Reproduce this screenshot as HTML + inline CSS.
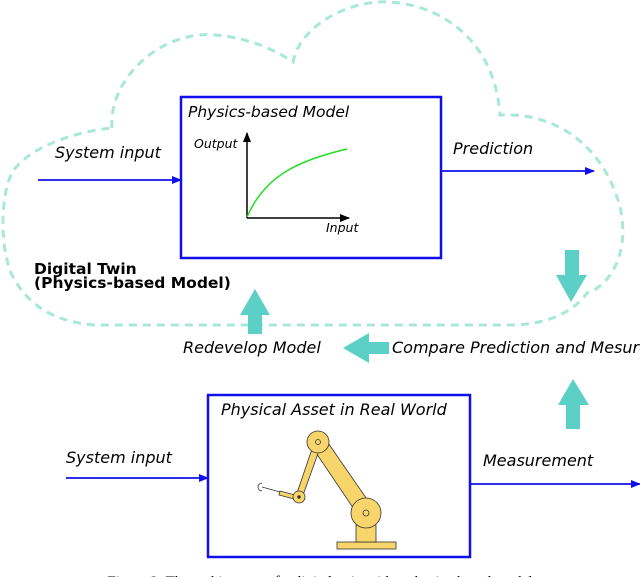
<!DOCTYPE html>
<html><head><meta charset="utf-8"><style>
html,body{margin:0;padding:0;background:#fff;}
svg{display:block;}
text{font-family:"DejaVu Sans","Liberation Sans",sans-serif;}
</style></head><body>
<svg width="640" height="577" viewBox="0 0 640 577" xmlns="http://www.w3.org/2000/svg">
<defs>
<marker id="ab" markerWidth="10" markerHeight="8" refX="9" refY="4" orient="auto" markerUnits="userSpaceOnUse">
<path d="M0,0 L10,4 L0,8 Z" fill="#1010ee"/></marker>
<marker id="ak" markerWidth="10" markerHeight="8" refX="9" refY="4" orient="auto" markerUnits="userSpaceOnUse">
<path d="M0,0 L10,4 L0,8 Z" fill="#000"/></marker>
</defs>
<path d="M112,128 C108,80 160,30 215,35 C250,38 275,50 293,62 C300,25 350,0 388,2 C440,4 495,40 500,115 C560,112 605,150 620,207 C630,250 612,285 587,293 C575,310 550,325 510,325 L94,325 C60,322 30,310 12,275 C0,250 0,195 12,173 C25,150 70,132 112,128 Z" fill="none" stroke="#a8e8d8" stroke-width="3" stroke-dasharray="8 6"/>
<rect x="181" y="97" width="260" height="161" fill="#fff" stroke="#1010ee" stroke-width="2.5"/>
<text x="188" y="117" font-size="15.5" font-style="italic">Physics-based Model</text>
<line x1="247" y1="218" x2="247" y2="133" stroke="#000" stroke-width="1.5" marker-end="url(#ak)"/>
<line x1="247" y1="218" x2="349" y2="218" stroke="#000" stroke-width="1.5" marker-end="url(#ak)"/>
<path d="M247,217 C265,175 300,160 347,149" fill="none" stroke="#22dd22" stroke-width="1.5"/>
<text x="194" y="148" font-size="12.5" font-style="italic">Output</text>
<text x="326" y="232" font-size="12.5" font-style="italic">Input</text>
<line x1="38" y1="180" x2="181" y2="180" stroke="#1010ee" stroke-width="1.8" marker-end="url(#ab)"/>
<text x="55" y="158" font-size="16" font-style="italic">System input</text>
<line x1="442" y1="171" x2="594" y2="171" stroke="#1010ee" stroke-width="1.8" marker-end="url(#ab)"/>
<text x="453" y="154" font-size="16" font-style="italic">Prediction</text>
<text x="34" y="274" font-size="15.5" font-weight="bold">Digital Twin</text>
<text x="34" y="288" font-size="15.5" font-weight="bold">(Physics-based Model)</text>
<path d="M255,289 L270,315 L262,315 L262,334 L248,334 L248,315 L240,315 Z" fill="#5ccfc6"/>
<path d="M565,250 L579,250 L579,275 L587,275 L571,302 L556,275 L565,275 Z" fill="#5ccfc6"/>
<path d="M343,348 L369,333 L369,342 L389,342 L389,354 L369,354 L369,363 Z" fill="#5ccfc6"/>
<path d="M573,379 L589,405 L580,405 L580,429 L566,429 L566,405 L558,405 Z" fill="#5ccfc6"/>
<text x="183" y="353" font-size="16" font-style="italic">Redevelop Model</text>
<text x="392" y="353" font-size="16" font-style="italic">Compare Prediction and Mesurement</text>
<rect x="208" y="395" width="262" height="162" fill="#fff" stroke="#1010ee" stroke-width="2.5"/>
<text x="221" y="415" font-size="16" font-style="italic">Physical Asset in Real World</text>
<line x1="66" y1="478" x2="208" y2="478" stroke="#1010ee" stroke-width="1.8" marker-end="url(#ab)"/>
<text x="66" y="463" font-size="16" font-style="italic">System input</text>
<line x1="471" y1="484" x2="640" y2="484" stroke="#1010ee" stroke-width="1.8" marker-end="url(#ab)"/>
<text x="483" y="466" font-size="16" font-style="italic">Measurement</text>
<g stroke="#333" stroke-width="0.8" fill="#f8d56a">
<rect x="337" y="542" width="59" height="7"/>
<rect x="356" y="525" width="20" height="17"/>
<path d="M312,447 L324,437 L373,508 L360,518 Z"/>
<path d="M314,443 L321,445 L302,498 L296,496 Z"/>
<circle cx="366" cy="513" r="15"/>
<circle cx="366" cy="513" r="3" fill="none"/>
<circle cx="318" cy="442" r="11"/>
<circle cx="318" cy="442" r="2.5" fill="none"/>
<path d="M280,491 L299,496 L298,500 L279,495 Z"/>
<circle cx="299" cy="497" r="6"/>
<circle cx="299" cy="497" r="1.3" fill="#333"/>
<line x1="280" y1="492" x2="262" y2="487" fill="none"/>
<path d="M262,483 A4,4 0 1 0 262,491" fill="none"/>
</g>
<text x="320" y="586" font-size="15" text-anchor="middle" style="font-family:'Liberation Serif',serif">Figure 2: The architecture of a digital twin with a physics-based model</text>
</svg>
</body></html>
